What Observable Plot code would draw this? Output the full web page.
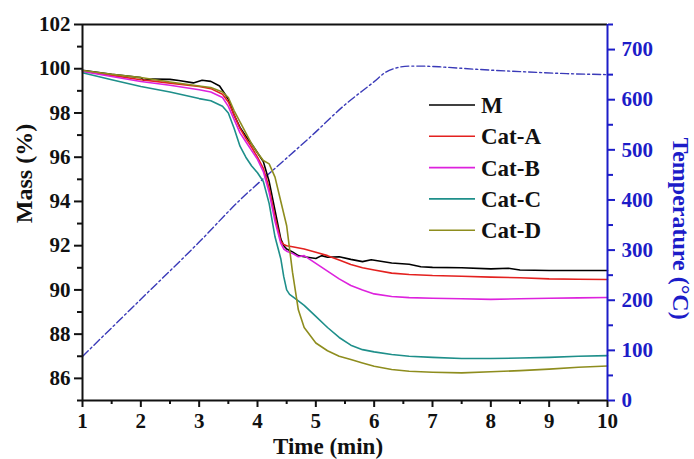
<!DOCTYPE html>
<html>
<head>
<meta charset="utf-8">
<script src="https://cdn.jsdelivr.net/npm/d3@7"></script>
<script src="https://cdn.jsdelivr.net/npm/@observablehq/plot@0.6"></script>
<style>
  html, body { margin: 0; padding: 0; background: #fff; }
  #wrap { position: relative; width: 694px; height: 459px; }
  #legend { position: absolute; left: 0; top: 0; pointer-events: none; }
  #wrap svg text { font-family: 'Liberation Serif', 'Times New Roman', serif; }
</style>
</head>
<body>
<div id="wrap"></div>
<script>
// ---- data ----
const seriesNames = ["M", "Cat-A", "Cat-B", "Cat-C", "Cat-D"];
const seriesColors = ["#000000", "#e3211f", "#dd22dd", "#1e8f8a", "#8e8d1e"];

const timeM = [1,1.5,2,2.05,2.2,2.5,2.65,2.9,3.05,3.2,3.35,3.5,3.6,3.7,3.8,3.9,4.0,4.1,4.2,4.3,4.4,4.45,4.5,4.6,4.7,4.8,5.0,5.1,5.2,5.4,5.6,5.8,5.95,6.3,6.6,6.8,7.0,7.5,8.0,8.3,8.5,9.0,9.5,10];
const massM = [99.93,99.75,99.6,99.48,99.53,99.52,99.47,99.36,99.48,99.43,99.22,98.62,97.9,97.35,96.95,96.6,96.2,95.8,94.9,93.6,92.3,92.0,91.85,91.72,91.55,91.5,91.42,91.55,91.48,91.5,91.38,91.28,91.36,91.22,91.16,91.05,91.02,91.0,90.95,90.98,90.9,90.88,90.88,90.88];

const timeA = [1,1.5,2,2.5,3,3.2,3.4,3.5,3.6,3.7,3.8,3.9,4.0,4.1,4.2,4.3,4.4,4.45,4.5,4.6,4.8,5.0,5.2,5.4,5.6,5.8,6.0,6.3,6.6,7.0,7.5,8.0,8.5,9.0,9.5,10];
const massA = [99.9,99.7,99.5,99.35,99.2,99.1,98.85,98.5,97.9,97.3,96.85,96.45,96.0,95.5,94.6,93.3,92.2,92.05,92.0,91.95,91.85,91.7,91.55,91.35,91.15,91.0,90.9,90.76,90.7,90.65,90.62,90.58,90.55,90.5,90.48,90.47];

const timeB = [1,1.5,2,2.5,3,3.2,3.4,3.5,3.6,3.7,3.8,3.9,4.0,4.1,4.2,4.3,4.4,4.45,4.5,4.6,4.7,4.8,5.0,5.2,5.4,5.6,5.8,6.0,6.3,6.6,7.0,7.5,8.0,8.5,9.0,9.5,10];
const massB = [99.88,99.65,99.42,99.25,99.05,98.95,98.7,98.3,97.7,97.1,96.7,96.3,95.9,95.35,94.4,93.1,92.1,91.85,91.75,91.65,91.5,91.55,91.2,90.85,90.5,90.2,90.0,89.82,89.7,89.65,89.62,89.6,89.57,89.6,89.62,89.64,89.66];

const timeC = [1,1.5,2,2.5,3,3.2,3.4,3.5,3.6,3.7,3.8,3.9,4.0,4.1,4.2,4.3,4.4,4.45,4.5,4.55,4.7,4.8,5.0,5.2,5.4,5.6,5.8,6.0,6.3,6.6,7.0,7.5,8.0,8.5,9.0,9.5,10];
const massC = [99.82,99.5,99.2,98.95,98.65,98.55,98.3,98.0,97.3,96.5,96.0,95.6,95.3,94.9,93.9,92.4,91.4,90.6,90.0,89.8,89.5,89.3,88.8,88.3,87.85,87.5,87.3,87.2,87.08,87.0,86.95,86.9,86.9,86.92,86.95,87.0,87.03];

const timeD = [1,1.5,2,2.5,3,3.2,3.4,3.5,3.6,3.7,3.8,3.9,4.0,4.1,4.2,4.3,4.4,4.5,4.6,4.7,4.8,5.0,5.2,5.4,5.6,5.8,6.0,6.3,6.6,7.0,7.5,8.0,8.5,9.0,9.5,10];
const massD = [99.92,99.75,99.6,99.4,99.22,99.15,98.95,98.7,98.1,97.6,97.1,96.6,96.2,95.85,95.7,95.1,94.0,92.9,90.8,89.1,88.3,87.6,87.25,87.0,86.85,86.7,86.55,86.4,86.32,86.28,86.25,86.3,86.35,86.42,86.5,86.56];

const timeT = [1,2,3,3.7,4.3,4.9,5.5,6.0,6.2,6.4,6.6,6.8,7.2,7.7,8.5,9.3,10];
const tempT = [88,202,316,400,463,525,590,636,655,664,667,667,665,661,656,652,650];

const xTicks = [1,2,3,4,5,6,7,8,9,10];
const xMinor = [1.5,2.5,3.5,4.5,5.5,6.5,7.5,8.5,9.5];
const massTicks = [86,88,90,92,94,96,98,100,102];
const massMinor = [85,87,89,91,93,95,97,99,101];
const tempTicks = [0,100,200,300,400,500,600,700];
const tempMinor = [50,150,250,350,450,550,650,750];

// ---- build ----
const yMin = 85, yMax = 102, tMax = 750;
const toMass = T => yMin + T * (yMax - yMin) / tMax;
const fromMass = m => Math.round((m - yMin) * tMax / (yMax - yMin));

const times = [timeM, timeA, timeB, timeC, timeD];
const masses = [massM, massA, massB, massC, massD];
const rows = [];
seriesNames.forEach((name, k) => {
  times[k].forEach((t, i) => rows.push({series: name, time: t, mass: masses[k][i]}));
});
const tempRows = timeT.map((t, i) => ({time: t, mass: toMass(tempT[i])}));

const BLUE = "#1c1cc8";
const font = "'Liberation Serif', 'Times New Roman', serif";

const chart = Plot.plot({
  width: 694,
  height: 459,
  marginLeft: 82,
  marginRight: 87,
  marginTop: 24,
  marginBottom: 59,
  style: {fontFamily: font, fontWeight: "bold", background: "white", overflow: "visible"},
  x: {domain: [1, 10]},
  y: {domain: [yMin, yMax]},
  color: {domain: seriesNames, range: seriesColors},
  marks: [
    // temperature (secondary axis, mapped onto y)
    Plot.line(tempRows, {x: "time", y: "mass", stroke: "#3a3ab8", strokeWidth: 1.4, strokeDasharray: "8,3,2,3", curve: "monotone-x"}),
    // mass curves
    Plot.line(rows, {x: "time", y: "mass", z: "series", stroke: "series", strokeWidth: 1.6, curve: "linear"}),
    // frame lines
    Plot.ruleY([yMax], {stroke: "#111", strokeWidth: 2}),
    Plot.ruleY([yMin], {stroke: "#111", strokeWidth: 2}),
    Plot.ruleX([1], {stroke: "#111", strokeWidth: 2}),
    Plot.ruleX([10], {stroke: BLUE, strokeWidth: 2}),
    // x axis
    Plot.axisX(xTicks, {anchor: "bottom", tickSize: 7, tickPadding: 6, fontSize: 21, fontFamily: font, fontWeight: "bold", strokeWidth: 2, stroke: "#111", fill: "#111", label: null}),
    Plot.axisX(xMinor, {anchor: "bottom", tickSize: 4, tickFormat: () => "", strokeWidth: 2, stroke: "#111", label: null}),
    // left axis
    Plot.axisY(massTicks, {anchor: "left", tickSize: 8, tickPadding: 4, fontSize: 21, fontFamily: font, fontWeight: "bold", strokeWidth: 2, stroke: "#111", fill: "#111", label: null}),
    Plot.axisY(massMinor, {anchor: "left", tickSize: 5, tickFormat: () => "", strokeWidth: 2, stroke: "#111", label: null}),
    // right axis (temperature)
    Plot.axisY(tempTicks.map(toMass), {anchor: "right", tickSize: 7, tickPadding: 7, fontSize: 21, fontFamily: font, fontWeight: "bold", strokeWidth: 2, stroke: BLUE, fill: BLUE, color: BLUE, tickFormat: d => String(fromMass(d)), label: null}),
    Plot.axisY(tempMinor.map(toMass), {anchor: "right", tickSize: 5, tickFormat: () => "", strokeWidth: 2, stroke: BLUE, label: null}),
    // axis titles
    Plot.text(["Mass (%)"], {frameAnchor: "left", textAnchor: "middle", lineAnchor: "middle", rotate: -90, dx: -58, dy: -39, fontSize: 24, fontFamily: font, fontWeight: "bold", fill: "#111"}),
    Plot.text(["Temperature (°C)"], {frameAnchor: "right", textAnchor: "middle", lineAnchor: "middle", rotate: 90, dx: 73, dy: 16, fontSize: 24, fontFamily: font, fontWeight: "bold", fill: BLUE}),
    Plot.text(["Time (min)"], {frameAnchor: "bottom", textAnchor: "middle", lineAnchor: "middle", dx: -17, dy: 46, fontSize: 23, fontFamily: font, fontWeight: "bold", fill: "#111"})
  ]
});

const wrap = document.getElementById("wrap");
wrap.appendChild(chart);

// ---- legend overlay (inside plot area, upper right) ----
const legend = d3.select(wrap).append("svg")
  .attr("id", "legend")
  .attr("width", 694).attr("height", 459);
const lg = legend.append("g").attr("transform", "translate(429,105)");
seriesNames.forEach((name, i) => {
  const g = lg.append("g").attr("transform", `translate(0,${i * 31.3})`);
  g.append("line").attr("x1", 0).attr("x2", 46).attr("y1", 0).attr("y2", 0)
    .attr("stroke", seriesColors[i]).attr("stroke-width", 1.6);
  g.append("text").attr("x", 52).attr("y", 0).attr("dy", "0.35em")
    .attr("font-family", font).attr("font-weight", "bold").attr("font-size", 23)
    .attr("fill", "#111").text(name);
});
</script>
</body>
</html>
